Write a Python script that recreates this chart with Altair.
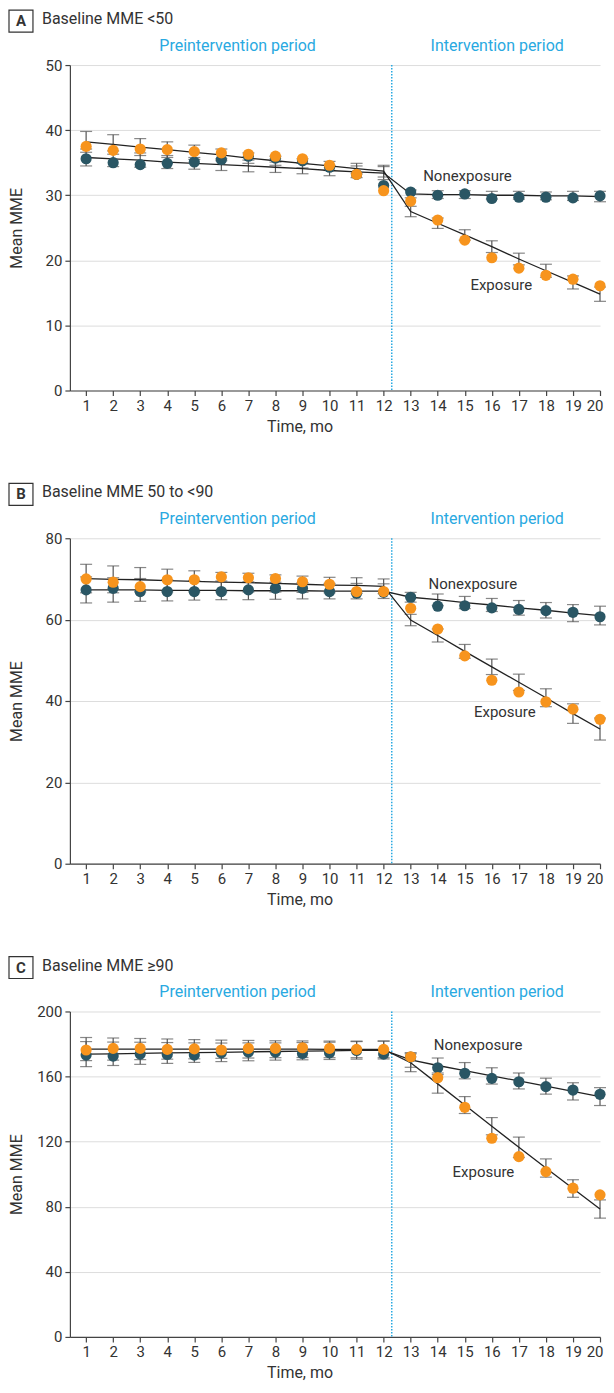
import altair as alt
import pandas as pd

FONT = "Roboto"
TEAL = "#2a5664"
ORANGE = "#f7941d"
BLUE = "#29a9e1"
TXT = "#333333"

months = list(range(1, 21))
INTERVENTION_X = 12.3

# ---------------- Panel A: Baseline MME <50 ----------------
a_non_mean = [35.6, 35.0, 34.7, 34.9, 35.1, 35.5, 36.0, 35.7, 35.3, 34.3, 33.2, 31.5,
              30.5, 30.0, 30.2, 29.5, 29.7, 29.7, 29.6, 29.9]
a_exp_mean = [37.5, 36.9, 37.1, 37.0, 36.7, 36.5, 36.3, 36.0, 35.6, 34.6, 33.2, 30.7,
              29.1, 26.2, 23.1, 20.4, 18.8, 17.7, 17.1, 16.1]
a_non_fit = [35.8, 35.6, 35.4, 35.1, 34.9, 34.7, 34.5, 34.3, 34.1, 33.8, 33.6, 33.4,
             30.2, 30.1, 30.1, 30.0, 30.0, 29.9, 29.9, 29.8]
a_exp_fit = [38.2, 37.8, 37.4, 37.0, 36.6, 36.2, 35.7, 35.3, 34.9, 34.5, 34.1, 33.7,
             27.5, 25.7, 23.9, 22.1, 20.2, 18.4, 16.6, 14.8]
a_non_ci = [1.3, 1.2, 1.1, 1.0, 0.9, 0.9, 0.9, 0.8, 0.8, 0.8, 0.9, 1.0,
            0.6, 0.6, 0.6, 0.6, 0.6, 0.6, 0.7, 0.8]
a_exp_ci = [1.6, 1.5, 1.3, 1.2, 1.1, 0.9, 0.8, 0.7, 0.7, 0.7, 0.8, 0.9,
            0.8, 0.8, 0.8, 0.9, 0.9, 1.0, 1.0, 1.1]

# ---------------- Panel B: Baseline MME 50 to <90 ----------------
b_non_mean = [67.3, 67.7, 66.9, 66.9, 66.9, 66.9, 67.3, 67.7, 67.7, 66.9, 66.5, 66.7,
              65.5, 63.3, 63.4, 62.9, 62.5, 62.2, 61.8, 60.7]
b_exp_mean = [70.0, 69.2, 68.1, 69.8, 69.8, 70.5, 70.3, 70.1, 69.3, 68.7, 66.9, 66.9,
              62.8, 57.7, 51.1, 45.1, 42.2, 39.8, 38.0, 35.5]
b_non_fit = [67.3, 67.3, 67.3, 67.2, 67.2, 67.2, 67.1, 67.1, 67.1, 67.0, 67.0, 67.0,
             65.5, 64.9, 64.2, 63.6, 62.9, 62.3, 61.6, 61.0]
b_exp_fit = [70.1, 69.9, 69.8, 69.6, 69.4, 69.2, 69.1, 68.9, 68.7, 68.5, 68.4, 68.2,
             59.9, 56.1, 52.2, 48.4, 44.6, 40.8, 36.9, 33.1]
b_non_ci = [3.2, 3.0, 2.8, 2.6, 2.4, 2.3, 2.2, 2.1, 2.0, 1.9, 1.9, 1.8,
            1.2, 1.4, 1.5, 1.6, 1.8, 1.9, 2.1, 2.3]
b_exp_ci = [3.5, 3.3, 3.0, 2.8, 2.6, 2.4, 2.3, 2.1, 2.0, 1.9, 1.9, 1.8,
            1.4, 1.6, 1.7, 1.9, 2.0, 2.2, 2.4, 2.7]

# ---------------- Panel C: Baseline MME >=90 ----------------
c_non_mean = [173.2, 172.6, 173.8, 173.6, 173.2, 174.6, 175.0, 175.0, 174.2, 174.6, 176.0, 173.8,
              172.0, 165.4, 162.0, 158.9, 156.8, 153.8, 151.7, 149.1]
c_exp_mean = [176.3, 177.3, 177.3, 176.7, 177.0, 176.3, 177.3, 177.3, 177.7, 177.3, 176.7, 176.7,
              172.2, 159.3, 141.1, 122.1, 110.8, 101.6, 91.4, 87.3]
c_non_fit = [173.8, 174.0, 174.3, 174.5, 174.7, 174.9, 175.2, 175.4, 175.6, 175.8, 176.1, 176.3,
             170.2, 166.8, 163.6, 160.4, 157.3, 154.1, 150.9, 147.7]
c_exp_fit = [176.9, 176.9, 176.9, 176.9, 176.8, 176.8, 176.8, 176.8, 176.8, 176.7, 176.7, 176.7,
             168.5, 155.5, 142.5, 129.5, 116.5, 103.8, 91.2, 78.6]
c_non_ci = [7.7, 7.2, 6.8, 6.4, 6.0, 5.7, 5.5, 5.3, 5.3, 5.3, 5.4, 5.5,
            4.5, 4.6, 5.0, 5.0, 4.9, 4.9, 5.3, 5.5]
c_exp_ci = [7.1, 6.8, 6.5, 6.2, 5.9, 5.6, 5.4, 5.2, 5.1, 5.1, 5.1, 5.1,
            5.5, 5.7, 5.2, 5.3, 6.3, 5.6, 5.4, 5.6]

# annotation anchors (month, value) for series labels
a_labels = {"Nonexposure": (15.1, 32.9), "Exposure": (16.35, 16.2)}
b_labels = {"Nonexposure": (15.3, 68.7), "Exposure": (16.48, 37.2)}
c_labels = {"Nonexposure": (15.49, 179.1), "Exposure": (15.69, 101.2)}

W, H = 531, 326


def panel(letter, title, ymax, ystep, non_mean, exp_mean, non_fit, exp_fit,
          non_ci, exp_ci, labels):
    rows = []
    for grp, mean, fit, ci in (("Nonexposure", non_mean, non_fit, non_ci),
                               ("Exposure", exp_mean, exp_fit, exp_ci)):
        for m, mv, fv, cv in zip(months, mean, fit, ci):
            rows.append({"month": m, "group": grp, "mean": mv, "fit": fv,
                         "lo": fv - cv, "hi": fv + cv})
    df = pd.DataFrame(rows)
    df_non = df[df.group == "Nonexposure"]
    df_exp = df[df.group == "Exposure"]

    xs = alt.Scale(domain=[0.4, 20], nice=False, zero=False)
    ys = alt.Scale(domain=[0, ymax], nice=False)
    xaxis = alt.Axis(values=months, grid=False, tickSize=5, labelPadding=3,
                     titlePadding=5, labelFlush=True, labelFlushOffset=3, titleX=230)
    yaxis = alt.Axis(values=list(range(0, ymax + 1, ystep)), grid=True, tickSize=5,
                     labelPadding=3, minExtent=38, maxExtent=38, titlePadding=7)
    X = alt.X("month:Q", scale=xs, axis=xaxis, title="Time, mo")

    def Y(field):
        return alt.Y(f"{field}:Q", scale=ys, axis=yaxis, title="Mean MME")

    base = alt.Chart(df)
    vline = alt.Chart(pd.DataFrame({"month": [INTERVENTION_X]})).mark_rule(
        color=BLUE, strokeDash=[1.5, 1.5], strokeWidth=1.5
    ).encode(x=X)
    bars = base.mark_rule(color="#555555", strokeWidth=1.2).encode(
        x=X, y=Y("lo"), y2="hi:Q")
    cap_lo = base.mark_tick(color="#555555", orient="horizontal", size=12,
                            thickness=1.2).encode(x=X, y=Y("lo"))
    cap_hi = base.mark_tick(color="#555555", orient="horizontal", size=12,
                            thickness=1.2).encode(x=X, y=Y("hi"))
    lines = base.mark_line(color="#222222", strokeWidth=1.3).encode(
        x=X, y=Y("fit"), detail="group:N")
    pts_non = alt.Chart(df_non).mark_circle(size=125, opacity=1, color=TEAL).encode(
        x=X, y=Y("mean"))
    pts_exp = alt.Chart(df_exp).mark_circle(size=125, opacity=1, color=ORANGE).encode(
        x=X, y=Y("mean"))

    lab_df = pd.DataFrame({"text": list(labels.keys()),
                           "month": [v[0] for v in labels.values()],
                           "val": [v[1] for v in labels.values()]})
    labs = alt.Chart(lab_df).mark_text(font=FONT, fontSize=15, color=TXT).encode(
        x=X, y=Y("val"), text="text:N")

    one = pd.DataFrame({"k": [0]})
    box = alt.Chart(one).mark_rect(fillOpacity=0, stroke=TXT, strokeWidth=1.2).encode(
        x=alt.value(-61), x2=alt.value(-37), y=alt.value(-55), y2=alt.value(-33))
    letter_t = alt.Chart(one).mark_text(text=letter, font=FONT, fontSize=15,
                                        fontWeight="bold", color=TXT).encode(
        x=alt.value(-49), y=alt.value(-44))
    title_t = alt.Chart(one).mark_text(text=title, font=FONT, fontSize=16, color=TXT,
                                       align="left").encode(
        x=alt.value(-28), y=alt.value(-46))
    pre_t = alt.Chart(one).mark_text(text="Preintervention period", font=FONT,
                                     fontSize=16, color=BLUE).encode(
        x=alt.value(168), y=alt.value(-19))
    post_t = alt.Chart(one).mark_text(text="Intervention period", font=FONT,
                                      fontSize=16, color=BLUE).encode(
        x=alt.value(428), y=alt.value(-19))

    return alt.layer(vline, bars, cap_lo, cap_hi, lines, pts_non, pts_exp, labs,
                     box, letter_t, title_t, pre_t, post_t).properties(width=W, height=H)


pA = panel("A", "Baseline MME <50", 50, 10, a_non_mean, a_exp_mean, a_non_fit,
           a_exp_fit, a_non_ci, a_exp_ci, a_labels)
pB = panel("B", "Baseline MME 50 to <90", 80, 20, b_non_mean, b_exp_mean, b_non_fit,
           b_exp_fit, b_non_ci, b_exp_ci, b_labels)
pC = panel("C", "Baseline MME \u226590", 200, 40, c_non_mean, c_exp_mean, c_non_fit,
           c_exp_fit, c_non_ci, c_exp_ci, c_labels)

chart = alt.vconcat(pA, pB, pC, spacing=148, bounds="flush").properties(
    padding={"left": 0, "top": 0, "right": 0, "bottom": 0}
).configure_view(stroke=None).configure_axis(
    labelFont=FONT, titleFont=FONT, labelFontSize=15, titleFontSize=16,
    titleFontWeight="normal", labelColor=TXT, titleColor=TXT,
    domainColor="#444444", tickColor="#444444", gridColor="#dddddd",
    domainWidth=1.2, tickWidth=1.2
)

chart.save("out.html", embed_options={"renderer": "svg", "actions": False})
